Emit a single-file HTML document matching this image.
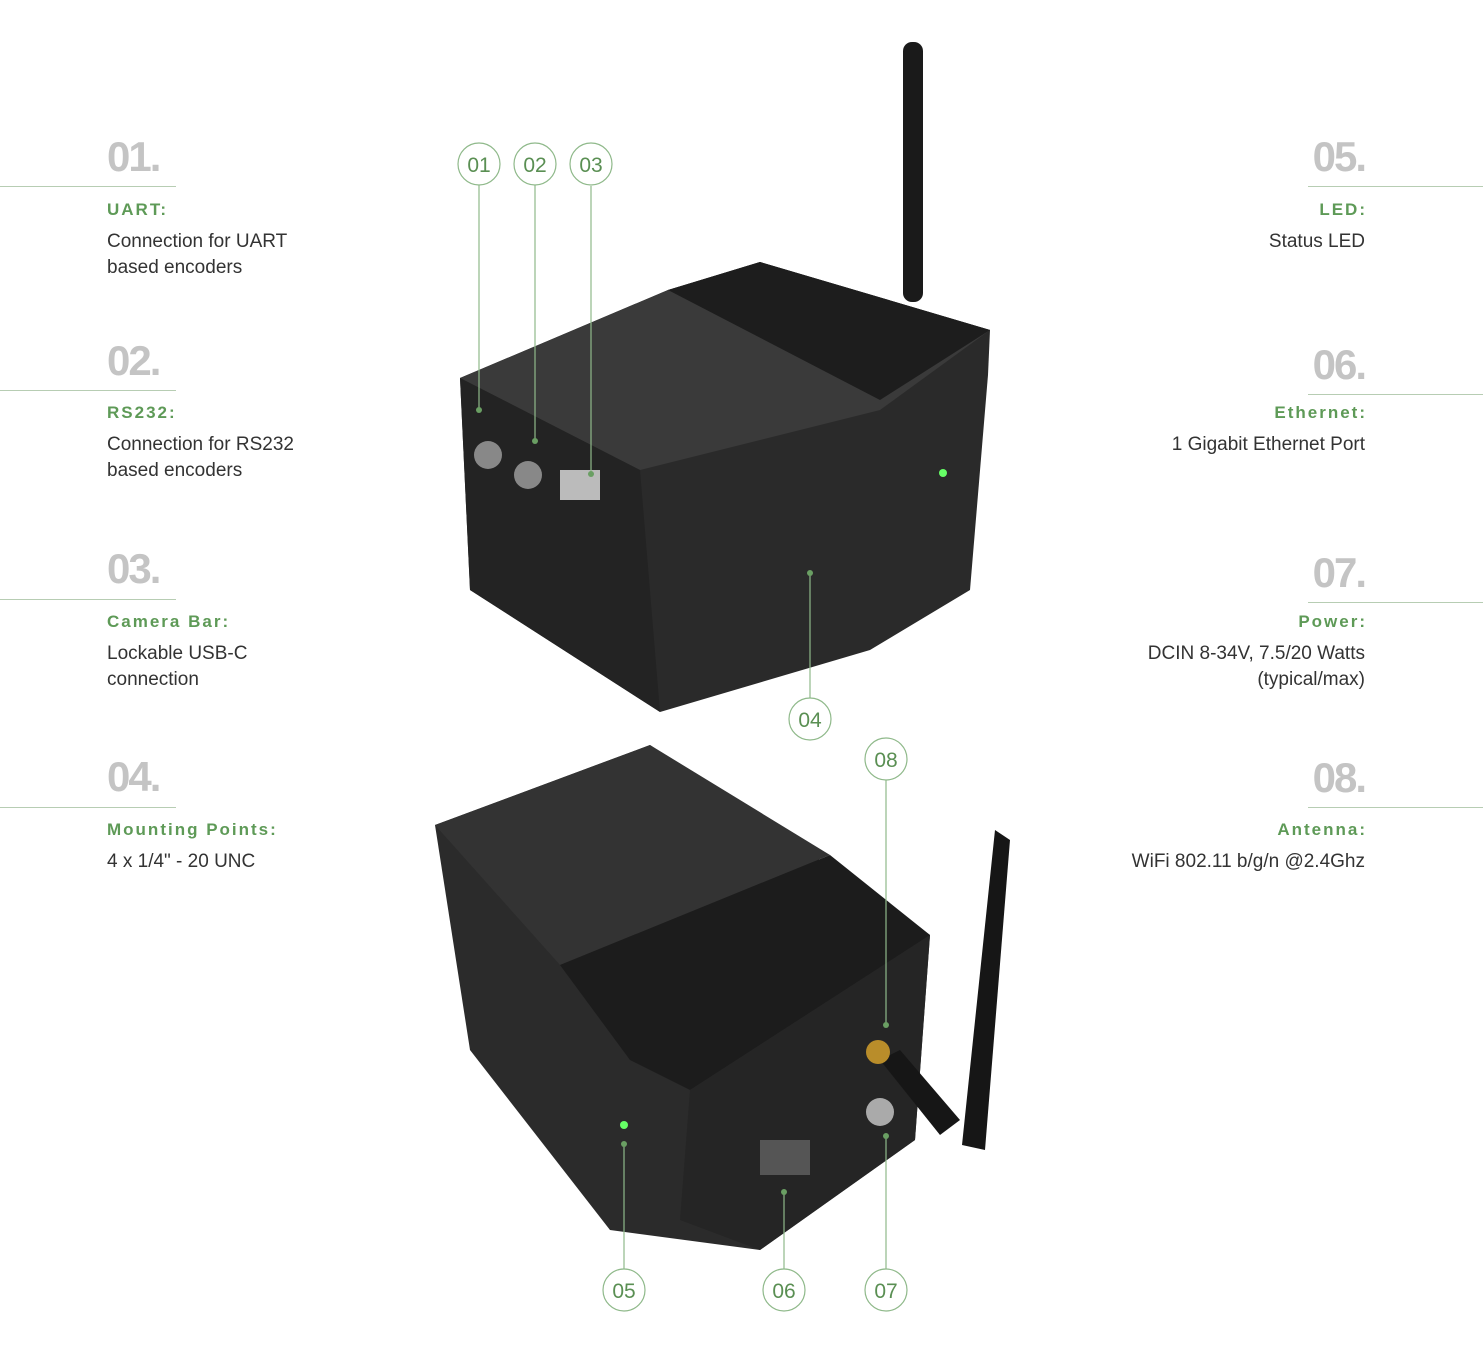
<!DOCTYPE html>
<html><head><meta charset="utf-8">
<style>
body{margin:0;width:1483px;height:1368px;background:#fff;position:relative;overflow:hidden;font-family:"Liberation Sans",sans-serif}
.n{position:absolute;font-size:42px;color:#c4c4c4;letter-spacing:-2px;font-weight:bold}
.t{position:absolute;font-size:17px;color:#5e9a57;font-weight:bold;letter-spacing:2px}
.d{position:absolute;font-size:19px;color:#333;line-height:26px}
.l{position:absolute;height:1px;background:#b7cdb3;width:176px}
.r{text-align:right}
svg{position:absolute;left:0;top:0}
</style></head><body>
<svg width="1483" height="1368">
<!-- top device -->
<polygon points="460,378 668,290 760,262 990,330 988,375 970,590 870,650 660,712 470,590" fill="#2a2a2a"/>
<polygon points="460,378 668,290 760,262 990,330 880,410 640,470" fill="#3a3a3a"/>
<polygon points="668,290 760,262 990,330 880,400" fill="#1d1d1d"/>
<polygon points="460,378 640,470 660,712 470,590" fill="#232323"/>
<rect x="903" y="42" width="20" height="260" rx="9" fill="#1a1a1a"/>
<circle cx="488" cy="455" r="14" fill="#888"/><circle cx="528" cy="475" r="14" fill="#888"/>
<rect x="560" y="470" width="40" height="30" fill="#bbb"/>
<circle cx="943" cy="473" r="4" fill="#6f6"/>
<!-- bottom device -->
<polygon points="435,825 650,745 930,935 915,1140 760,1250 610,1230 470,1050" fill="#2b2b2b"/>
<polygon points="435,825 650,745 830,855 560,965" fill="#333"/>
<polygon points="560,965 830,855 930,935 690,1090 630,1060" fill="#1c1c1c"/>
<polygon points="690,1090 930,935 915,1140 760,1250 680,1220" fill="#252525"/>
<polygon points="995,830 1010,840 985,1150 962,1145" fill="#161616"/>
<polygon points="880,1060 900,1050 960,1120 940,1135" fill="#161616"/>
<circle cx="878" cy="1052" r="12" fill="#b98d2a"/><circle cx="880" cy="1112" r="14" fill="#aaa"/>
<rect x="760" y="1140" width="50" height="35" fill="#555"/>
<circle cx="624" cy="1125" r="4" fill="#6f6"/>
<g stroke="#8fb98a" stroke-width="1.2" fill="#fff">
<line x1="479" y1="185" x2="479" y2="410"/><line x1="535" y1="185" x2="535" y2="441"/><line x1="591" y1="186" x2="591" y2="474"/>
<line x1="810" y1="698" x2="810" y2="573"/><line x1="886" y1="780" x2="886" y2="1025"/>
<line x1="624" y1="1269" x2="624" y2="1144"/><line x1="784" y1="1269" x2="784" y2="1192"/><line x1="886" y1="1269" x2="886" y2="1136"/>
<circle cx="479" cy="164" r="21"/><circle cx="535" cy="164" r="21"/><circle cx="591" cy="164" r="21"/>
<circle cx="810" cy="719" r="21"/><circle cx="886" cy="759" r="21"/>
<circle cx="624" cy="1290" r="21"/><circle cx="784" cy="1290" r="21"/><circle cx="886" cy="1290" r="21"/>
</g>
<g fill="#6a9f63"><circle cx="479" cy="410" r="3"/><circle cx="535" cy="441" r="3"/><circle cx="591" cy="474" r="3"/><circle cx="810" cy="573" r="3"/><circle cx="886" cy="1025" r="3"/><circle cx="624" cy="1144" r="3"/><circle cx="784" cy="1192" r="3"/><circle cx="886" cy="1136" r="3"/></g>
<g font-family="Liberation Sans" font-size="21" fill="#5a8f53" text-anchor="middle">
<text x="479" y="172">01</text><text x="535" y="172">02</text><text x="591" y="172">03</text><text x="810" y="727">04</text><text x="886" y="767">08</text><text x="624" y="1298">05</text><text x="784" y="1298">06</text><text x="886" y="1298">07</text>
</g>
</svg>
<div class="n" style="left:107px;top:133px">01.</div><div class="l" style="left:0;top:186px"></div>
<div class="t" style="left:107px;top:200px">UART:</div><div class="d" style="left:107px;top:229px">Connection for UART<br>based encoders</div>
<div class="n" style="left:107px;top:337px">02.</div><div class="l" style="left:0;top:390px"></div>
<div class="t" style="left:107px;top:403px">RS232:</div><div class="d" style="left:107px;top:432px">Connection for RS232<br>based encoders</div>
<div class="n" style="left:107px;top:545px">03.</div><div class="l" style="left:0;top:599px"></div>
<div class="t" style="left:107px;top:612px">Camera Bar:</div><div class="d" style="left:107px;top:641px">Lockable USB-C<br>connection</div>
<div class="n" style="left:107px;top:753px">04.</div><div class="l" style="left:0;top:807px"></div>
<div class="t" style="left:107px;top:820px">Mounting Points:</div><div class="d" style="left:107px;top:849px">4 x 1/4" - 20 UNC</div>

<div class="n r" style="right:118px;top:133px">05.</div><div class="l" style="left:1308px;top:186px"></div>
<div class="t r" style="right:116px;top:200px">LED:</div><div class="d r" style="right:118px;top:229px">Status LED</div>
<div class="n r" style="right:118px;top:341px">06.</div><div class="l" style="left:1308px;top:394px"></div>
<div class="t r" style="right:116px;top:403px">Ethernet:</div><div class="d r" style="right:118px;top:432px">1 Gigabit Ethernet Port</div>
<div class="n r" style="right:118px;top:549px">07.</div><div class="l" style="left:1308px;top:602px"></div>
<div class="t r" style="right:116px;top:612px">Power:</div><div class="d r" style="right:118px;top:641px">DCIN 8-34V, 7.5/20 Watts<br>(typical/max)</div>
<div class="n r" style="right:118px;top:754px">08.</div><div class="l" style="left:1308px;top:807px"></div>
<div class="t r" style="right:116px;top:820px">Antenna:</div><div class="d r" style="right:118px;top:849px">WiFi 802.11 b/g/n @2.4Ghz</div>
</body></html>
